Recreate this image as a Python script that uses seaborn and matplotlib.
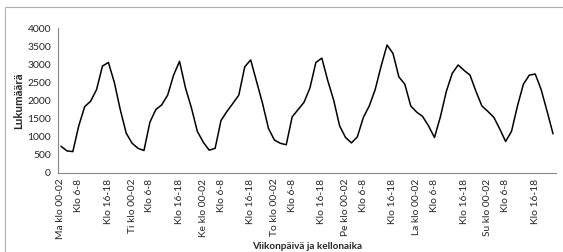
import numpy as np
import pandas as pd
import seaborn as sns
import matplotlib.pyplot as plt
from matplotlib.patches import Rectangle

# two-hour bins, 12 per day, Monday to Sunday
days = ['Ma', 'Ti', 'Ke', 'To', 'Pe', 'La', 'Su']
ma = [740, 610, 590, 1300, 1830, 1980, 2300, 2950, 3050, 2500, 1750, 1100]
ti = [820, 680, 620, 1400, 1750, 1880, 2150, 2700, 3080, 2350, 1800, 1150]
ke = [850, 630, 680, 1450, 1700, 1920, 2150, 2930, 3120, 2520, 1920, 1230]
to = [910, 820, 780, 1550, 1750, 1950, 2350, 3050, 3170, 2550, 2010, 1300]
pe = [980, 830, 1000, 1530, 1850, 2300, 2950, 3530, 3300, 2650, 2450, 1850]
la = [1680, 1560, 1300, 980, 1550, 2250, 2750, 2980, 2830, 2700, 2250, 1850]
su = [1700, 1540, 1220, 870, 1150, 1850, 2450, 2700, 2730, 2300, 1700, 1080]

labels = []
for d in days:
    day_labels = [''] * 12
    day_labels[0] = d + ' klo 00-02'
    day_labels[3] = 'Klo 6-8'
    day_labels[8] = 'Klo 16-18'
    labels += day_labels

values = ma + ti + ke + to + pe + la + su
df = pd.DataFrame({'pos': np.arange(len(values)), 'count': values})

sns.set_style('white')
plt.rcParams['font.family'] = ['Lato', 'DejaVu Sans']

fig = plt.figure(figsize=(5.63, 2.52), dpi=100)
fig.patches.append(Rectangle((5 / 563, -0.1), 1.0, 1.1 - 7 / 252, transform=fig.transFigure,
                             fill=False, edgecolor='#b0b0b0', linewidth=0.8))
ax = fig.add_axes([58 / 563, 1 - 173 / 252, 498 / 563, 145 / 252])

sns.lineplot(data=df, x='pos', y='count', color='black', linewidth=1.1, ax=ax)
for ln in ax.lines:
    ln.set_solid_joinstyle('round')

ax.set_xlim(-0.5, len(values) - 0.5)
ax.set_ylim(0, 4000)
ax.set_yticks(np.arange(0, 4001, 500))

tick_pos = [i for i, t in enumerate(labels) if t]
ax.set_xticks(tick_pos)
ax.set_xticklabels([labels[i] for i in tick_pos], rotation=90, fontsize=7.4)
ax.set_xticks(np.arange(-0.5, len(values)), minor=True)
ax.tick_params(axis='x', which='major', length=0, pad=4)
ax.tick_params(axis='x', which='minor', length=3, color='#868686', width=0.6)
ax.tick_params(axis='y', length=3, color='#868686', width=0.6, labelsize=7.5, pad=2)

for s in ['top', 'right']:
    ax.spines[s].set_visible(False)
for s in ['left', 'bottom']:
    ax.spines[s].set_color('#868686')
    ax.spines[s].set_linewidth(0.8)

ax.set_ylabel('Lukumäärä', fontsize=8.2, fontweight='bold', labelpad=2)
ax.set_xlabel('Viikonpäivä ja kellonaika', fontsize=7.2, fontweight='bold', labelpad=2)

fig.savefig('out.png', dpi=100)
